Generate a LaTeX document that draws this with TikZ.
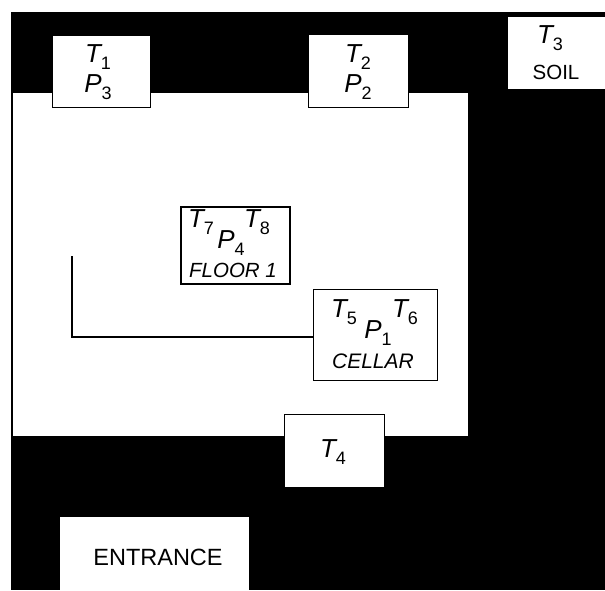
\documentclass[tikz,border=0pt]{standalone}
\usepackage{fontspec}
\setmainfont{Liberation Sans}
\usetikzlibrary{positioning}
\newcommand{\sens}[2]{{\fontsize{26}{26}\selectfont\itshape #1}\raisebox{-7pt}{\fontsize{18}{18}\selectfont #2}}
\tikzset{
	box/.style={draw=#1,fill=white,line width=1.2pt,inner sep=0pt,anchor=north west},
	box/.default=black,
	mark text/.style={inner sep=0pt,text=black},
	small label/.style={inner sep=0pt,font=\fontsize{20.5}{20.5}\selectfont},
	wire/.style={line width=1.2pt}
}
\begin{document}
\begin{tikzpicture}[x=1pt,y=-1pt]
\useasboundingbox (0,0) rectangle (605,590);
\fill[black] (11,12) rectangle (605,590);
\fill[white] (13,93) rectangle (468,436);
% sensor boxes
\node[box,minimum width=98pt,minimum height=72pt] (t1box) at (52,35) {};
\node[box,minimum width=100pt,minimum height=73pt] (t2box) at (308,34) {};
\node[box=white,minimum width=97pt,minimum height=71pt] (t3box) at (508,17) {};
\node[box,minimum width=100pt,minimum height=73pt] (t4box) at (284,414) {};
\node[box,line width=1.6pt,minimum width=109pt,minimum height=77pt] (floor) at (180,206) {};
\node[box,minimum width=124pt,minimum height=91pt] (cellar) at (313,289) {};
\node[box=white,minimum width=188pt,minimum height=73pt] (entrance) at (60,517) {};
% texts
\node[mark text] (t1) at (98,57) {\sens{T}{1}};
\node[mark text] (p3) at (98,87) {\sens{P}{3}};
\node[mark text] (t2) at (358,57) {\sens{T}{2}};
\node[mark text] (p2) at (358,87) {\sens{P}{2}};
\node[mark text] (t3) at (550,38) {\sens{T}{3}};
\node[small label] (soil) at (556,72) {SOIL};
\node[mark text] (t4) at (333,452) {\sens{T}{4}};
\node[mark text] (t7) at (201,222) {\sens{T}{7}};
\node[mark text] (t8) at (257,222) {\sens{T}{8}};
\node[mark text] (p4) at (231,243) {\sens{P}{4}};
\node[small label,font=\fontsize{20.5}{20.5}\selectfont\itshape] (floorlabel) at (233,270) {FLOOR 1};
\node[mark text] (t5) at (344,312) {\sens{T}{5}};
\node[mark text] (t6) at (405,312) {\sens{T}{6}};
\node[mark text] (p1) at (378,333) {\sens{P}{1}};
\node[small label,font=\fontsize{21}{21}\selectfont\itshape] (cellarlabel) at (373,361) {CELLAR};
\node[inner sep=0pt,font=\fontsize{23.5}{23.5}\selectfont] (entrancelabel) at (158,557) {ENTRANCE};
% cable
\coordinate (cableend) at (72,256);
\draw[wire] (cableend) |- (cellar.west |- 0,337);
\end{tikzpicture}
\end{document}
